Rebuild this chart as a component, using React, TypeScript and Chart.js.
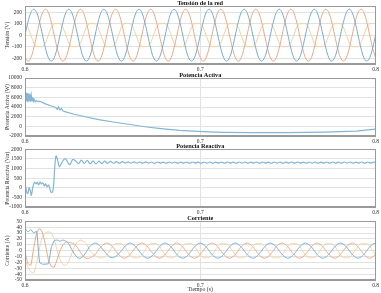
import React, { useEffect, useRef } from "react";
import { Chart, registerables } from "chart.js";

Chart.register(...registerables);

// ---------- shared sampling grid (30 degrees of a 50 Hz cycle) ----------
const T0 = 0.6;
const DT = 1 / 600;
const timeTicks = [0.6, 0.7, 0.8];

// ---------- Tensión de la red ----------
const voltTicks = [-200, -100, 0, 100, 200];
const voltA = [
  0, 112, 195, 225, 195, 112, 0, -112, -195, -225, -195, -112,
  0, 112, 195, 225, 195, 112, 0, -112, -195, -225, -195, -112,
  0, 112, 195, 225, 195, 112, 0, -112, -195, -225, -195, -112,
  0, 112, 195, 225, 195, 112, 0, -112, -195, -225, -195, -112,
  0, 112, 195, 225, 195, 112, 0, -112, -195, -225, -195, -112,
  0, 112, 195, 225, 195, 112, 0, -112, -195, -225, -195, -112,
  0, 112, 195, 225, 195, 112, 0, -112, -195, -225, -195, -112,
  0, 112, 195, 225, 195, 112, 0, -112, -195, -225, -195, -112,
  0, 112, 195, 225, 195, 112, 0, -112, -195, -225, -195, -112,
  0, 112, 195, 225, 195, 112, 0, -112, -195, -225, -195, -112,
  0,
];
const voltB = [
  -195, -225, -195, -112, 0, 112, 195, 225, 195, 112, 0, -112,
  -195, -225, -195, -112, 0, 112, 195, 225, 195, 112, 0, -112,
  -195, -225, -195, -112, 0, 112, 195, 225, 195, 112, 0, -112,
  -195, -225, -195, -112, 0, 112, 195, 225, 195, 112, 0, -112,
  -195, -225, -195, -112, 0, 112, 195, 225, 195, 112, 0, -112,
  -195, -225, -195, -112, 0, 112, 195, 225, 195, 112, 0, -112,
  -195, -225, -195, -112, 0, 112, 195, 225, 195, 112, 0, -112,
  -195, -225, -195, -112, 0, 112, 195, 225, 195, 112, 0, -112,
  -195, -225, -195, -112, 0, 112, 195, 225, 195, 112, 0, -112,
  -195, -225, -195, -112, 0, 112, 195, 225, 195, 112, 0, -112,
  -195,
];
const voltC = [
  100, 70, 0, -70, -100, -100, -100, -70, 0, 70, 100, 100,
  100, 70, 0, -70, -100, -100, -100, -70, 0, 70, 100, 100,
  100, 70, 0, -70, -100, -100, -100, -70, 0, 70, 100, 100,
  100, 70, 0, -70, -100, -100, -100, -70, 0, 70, 100, 100,
  100, 70, 0, -70, -100, -100, -100, -70, 0, 70, 100, 100,
  100, 70, 0, -70, -100, -100, -100, -70, 0, 70, 100, 100,
  100, 70, 0, -70, -100, -100, -100, -70, 0, 70, 100, 100,
  100, 70, 0, -70, -100, -100, -100, -70, 0, 70, 100, 100,
  100, 70, 0, -70, -100, -100, -100, -70, 0, 70, 100, 100,
  100, 70, 0, -70, -100, -100, -100, -70, 0, 70, 100, 100,
  100,
];

// ---------- Potencia Activa ----------
const activeTicks = [-2000, 0, 2000, 4000, 6000, 8000, 10000];
const activeT = [
  0.6, 0.6004, 0.6008, 0.6012, 0.6016, 0.602, 0.6024, 0.6028, 0.6032, 0.6036,
  0.604, 0.6044, 0.6048, 0.6052, 0.6058, 0.6065, 0.6075, 0.6085, 0.6095, 0.612,
  0.615, 0.6175, 0.6185, 0.6192, 0.62, 0.6208, 0.6215, 0.6237, 0.628, 0.6351,
  0.642, 0.6503, 0.66, 0.6693, 0.679, 0.6883, 0.696, 0.705, 0.713, 0.73,
  0.75, 0.77, 0.789, 0.8,
];
const activeP = [
  6000, 7100, 5200, 6900, 5000, 6700, 5300, 6800, 5100, 6400,
  5300, 6000, 5200, 5600, 5100, 5300, 5100, 5200, 5000, 4600,
  4200, 3900, 3500, 4000, 3400, 3700, 3200, 2950, 2500, 1930,
  1400, 900, 380, -140, -520, -830, -1000, -1150, -1240, -1300,
  -1310, -1200, -1000, -560,
];

// ---------- Potencia Reactiva ----------
const reactiveTicks = [-1000, -500, 0, 500, 1000, 1500, 2000];
const reactiveEarlyT = [
  0.6, 0.6003, 0.6008, 0.6013, 0.6018, 0.6023, 0.603, 0.6036, 0.6042, 0.6048,
  0.6055, 0.6062, 0.607, 0.6078, 0.6086, 0.6094, 0.6102, 0.611, 0.6118, 0.6126,
  0.6135, 0.6143, 0.615, 0.6158, 0.6164, 0.617, 0.6177, 0.6186, 0.6196, 0.621,
  0.6222, 0.6232, 0.6245, 0.6256, 0.6272, 0.6288, 0.6305, 0.6322, 0.6338, 0.6355,
  0.6372, 0.6388, 0.6405, 0.6422, 0.6438,
];
const reactiveEarlyQ = [
  600, 100, -150, -300, -250, 0, -150, -400, -100, 150,
  300, 200, 280, 150, 300, 200, 250, 100, 200, 50,
  150, -100, -250, -200, 200, 1100, 1650, 1450, 1100, 1300,
  1480, 1500, 1300, 1200, 1470, 1400, 1250, 1440, 1260, 1420,
  1250, 1400, 1240, 1390, 1260,
];
const reactiveRippleStart = 0.6455;
const reactiveRippleQ = [
  1380, 1270, 1370, 1275, 1360, 1270, 1355, 1280, 1350, 1275,
  1345, 1280, 1340, 1275, 1345, 1280, 1340, 1270, 1340, 1280,
  1335, 1275, 1340, 1280, 1340, 1275, 1335, 1280, 1340, 1275,
  1340, 1280, 1335, 1275, 1340, 1280, 1340, 1275, 1335, 1280,
  1340, 1275, 1340, 1280, 1335, 1275, 1340, 1280, 1340, 1275,
  1335, 1280, 1340, 1275, 1340, 1280, 1335, 1275, 1340, 1280,
  1340, 1275, 1335, 1280, 1340, 1275, 1340, 1280, 1335, 1275,
  1340, 1280, 1340, 1275, 1335, 1280, 1340, 1275, 1340, 1280,
  1335, 1275, 1340, 1280, 1340, 1275, 1335, 1280, 1340, 1275,
  1340, 1280, 1335, 1275,
];

// ---------- Corriente ----------
const currentTicks = [-50, -40, -30, -20, -10, 0, 10, 20, 30, 40, 50];
const curA = [
  38, 32, 36, 30, 33, -20, -23, -23, -22, 5, 17, 18,
  16, 18, 16, 12, 2, -6, -12, -13, -9, -2, 6, 11,
  13, 11, 6, 0, -6, -11, -12, -10, -6, 0, 6, 11,
  13, 11, 6.5, 0, -6.5, -11, -13, -11, -6.5, 0, 6.5, 11,
  13, 11, 6.5, 0, -6.5, -11, -13, -11, -6.5, 0, 6.5, 11,
  13, 11, 6.5, 0, -6.5, -11, -13, -11, -6.5, 0, 6.5, 11,
  13, 11, 6.5, 0, -6.5, -11, -13, -11, -6.5, 0, 6.5, 11,
  13, 11, 6.5, 0, -6.5, -11, -13, -11, -6.5, 0, 6.5, 11,
  13, 11, 6.5, 0, -6.5, -11, -13, -11, -6.5, 0, 6.5, 11,
  13, 11, 6.5, 0, -6.5, -11, -13, -11, -6.5, 0, 6.5, 11,
  13,
];
const curB = [
  -2, -22, -25, 5, 30, 38, 30, 10, -15, -27, -28, -15,
  0, 10, 15, 14, 13, 11, 5, -3, -10, -13, -13, -10,
  -6.5, 0, 6.5, 11, 13, 11, 6.5, 0, -6.5, -11, -13, -11,
  -6.5, 0, 6.5, 11, 13, 11, 6.5, 0, -6.5, -11, -13, -11,
  -6.5, 0, 6.5, 11, 13, 11, 6.5, 0, -6.5, -11, -13, -11,
  -6.5, 0, 6.5, 11, 13, 11, 6.5, 0, -6.5, -11, -13, -11,
  -6.5, 0, 6.5, 11, 13, 11, 6.5, 0, -6.5, -11, -13, -11,
  -6.5, 0, 6.5, 11, 13, 11, 6.5, 0, -6.5, -11, -13, -11,
  -6.5, 0, 6.5, 11, 13, 11, 6.5, 0, -6.5, -11, -13, -11,
  -6.5, 0, 6.5, 11, 13, 11, 6.5, 0, -6.5, -11, -13, -11,
  -6.5,
];
const curC = [
  -15, -28, -36, -38, -20, 5, 25, 30, 32, 30, 20, 0,
  -15, -24, -25, -18, -5, 8, 15, 18, 16, 12, 3, -5,
  -7.5, -12, -12, -12, -7.5, 0, 7.5, 12, 12, 12, 7.5, 0,
  -7.5, -12, -12, -12, -7.5, 0, 7.5, 12, 12, 12, 7.5, 0,
  -7.5, -12, -12, -12, -7.5, 0, 7.5, 12, 12, 12, 7.5, 0,
  -7.5, -12, -12, -12, -7.5, 0, 7.5, 12, 12, 12, 7.5, 0,
  -7.5, -12, -12, -12, -7.5, 0, 7.5, 12, 12, 12, 7.5, 0,
  -7.5, -12, -12, -12, -7.5, 0, 7.5, 12, 12, 12, 7.5, 0,
  -7.5, -12, -12, -12, -7.5, 0, 7.5, 12, 12, 12, 7.5, 0,
  -7.5, -12, -12, -12, -7.5, 0, 7.5, 12, 12, 12, 7.5, 0,
  -7.5,
];

// ---------- styling ----------
const SERIF = "'Liberation Serif', 'DejaVu Serif', serif";
const BLUE = "#76abd2";
const ORANGE = "#e9a885";
const YELLOW = "#f3d3a2";
const POWER = "#80b6d6";

const onGrid = (vals: number[]) => vals.map((v, i) => ({ x: T0 + i * DT, y: v }));
const pairs = (ts: number[], vs: number[]) => vs.map((v, i) => ({ x: ts[i], y: v }));

const boxPlugin = {
  id: "box",
  afterDraw(chart: any) {
    const { ctx, chartArea } = chart;
    const { left, top, right, bottom } = chartArea;
    ctx.save();
    ctx.strokeStyle = "#9a9a9a";
    ctx.lineWidth = 1;
    ctx.strokeRect(Math.round(left) + 0.5, Math.round(top) + 0.5, Math.round(right - left) - 1, Math.round(bottom - top) - 1);
    ctx.restore();
  },
};

type PanelCfg = {
  top: number;
  height: number;
  padTop: number;
  xH: number;
  title: string;
  yTitle: string;
  yMin: number;
  yMax: number;
  yTicks: number[];
  xTitle?: string;
  datasets: any[];
};

const line = (data: any[], color: string, tension: number, width = 1) => ({
  data,
  borderColor: color,
  borderWidth: width,
  pointRadius: 0,
  tension,
  fill: false,
});

const panels: PanelCfg[] = [
  {
    top: 0, height: 73, padTop: 0, xH: 9,
    title: "Tensión de la red", yTitle: "Tensión (V)",
    yMin: -250, yMax: 250, yTicks: voltTicks,
    datasets: [line(onGrid(voltA), BLUE, 0.4), line(onGrid(voltB), ORANGE, 0.4), line(onGrid(voltC), YELLOW, 0)],
  },
  {
    top: 71, height: 74, padTop: 1, xH: 9,
    title: "Potencia Activa", yTitle: "Potencia Activa (W)",
    yMin: -2000, yMax: 10000, yTicks: activeTicks,
    datasets: [line(pairs(activeT, activeP), POWER, 0, 1.2)],
  },
  {
    top: 143, height: 74, padTop: 0, xH: 10,
    title: "Potencia Reactiva", yTitle: "Potencia Reactiva (Var)",
    yMin: -1000, yMax: 2000, yTicks: reactiveTicks,
    datasets: [
      line(
        pairs(reactiveEarlyT, reactiveEarlyQ).concat(
          reactiveRippleQ.map((v, i) => ({ x: reactiveRippleStart + i * DT, y: v }))
        ),
        POWER, 0.3, 1.2
      ),
    ],
  },
  {
    top: 215, height: 78, padTop: 0, xH: 13,
    title: "Corriente", yTitle: "Corriente (A)", xTitle: "Tiempo (s)",
    yMin: -50, yMax: 50, yTicks: currentTicks,
    datasets: [line(onGrid(curA), BLUE, 0.15), line(onGrid(curB), ORANGE, 0.15), line(onGrid(curC), YELLOW, 0.15)],
  },
];

function Panel({ cfg }: { cfg: PanelCfg }) {
  const ref = useRef<HTMLCanvasElement>(null);
  useEffect(() => {
    const tickFont = { family: SERIF, size: 5.5 };
    const chart = new Chart(ref.current as HTMLCanvasElement, {
      type: "line",
      data: { datasets: cfg.datasets },
      options: {
        animation: false,
        responsive: false,
        events: [],
        layout: { padding: { top: cfg.padTop, right: 5, left: 0, bottom: 0 } },
        plugins: {
          legend: { display: false },
          tooltip: { enabled: false },
          title: {
            display: true,
            text: cfg.title,
            fullSize: false,
            padding: 0,
            color: "#111",
            font: { family: SERIF, size: 6.3, weight: "bold", lineHeight: "6px" },
          },
        },
        scales: {
          x: {
            type: "linear",
            min: 0.6,
            max: 0.8,
            afterBuildTicks: (s: any) => {
              s.ticks = timeTicks.map((v) => ({ value: v }));
            },
            afterFit: (s: any) => {
              s.height = cfg.xH;
            },
            ticks: {
              font: tickFont,
              color: "#333",
              padding: 2,
              maxRotation: 0,
              autoSkip: false,
              callback: (v: any) => Number(v).toFixed(1),
            },
            grid: { color: "#e2e2e2", drawTicks: false },
            border: { color: "#9a9a9a" },
            title: cfg.xTitle
              ? { display: true, text: cfg.xTitle, color: "#333", font: { family: SERIF, size: 5.8, lineHeight: "6px" }, padding: { top: 0, bottom: 1 } }
              : { display: false },
          },
          y: {
            min: cfg.yMin,
            max: cfg.yMax,
            afterBuildTicks: (s: any) => {
              s.ticks = cfg.yTicks.map((v) => ({ value: v }));
            },
            afterFit: (s: any) => {
              s.width = 25;
            },
            ticks: { font: tickFont, color: "#333", padding: 3, autoSkip: false, callback: (v: any) => String(v) },
            grid: { color: "#e2e2e2", drawTicks: false },
            border: { color: "#9a9a9a" },
            title: {
              display: true,
              text: cfg.yTitle,
              color: "#333",
              font: { family: SERIF, size: 5.6, lineHeight: "6px" },
              padding: { top: 5, bottom: 0 },
            },
          },
        },
      } as any,
      plugins: [boxPlugin],
    });
    return () => chart.destroy();
  }, []);
  return (
    <canvas
      ref={ref}
      width={381}
      height={cfg.height}
      style={{ position: "absolute", left: 0, top: cfg.top, display: "block" }}
    />
  );
}

export default function App() {
  return (
    <div style={{ position: "fixed", left: 0, top: 0, width: 381, height: 293, background: "#fff" }}>
      {panels.map((p, i) => (
        <Panel key={i} cfg={p} />
      ))}
    </div>
  );
}
